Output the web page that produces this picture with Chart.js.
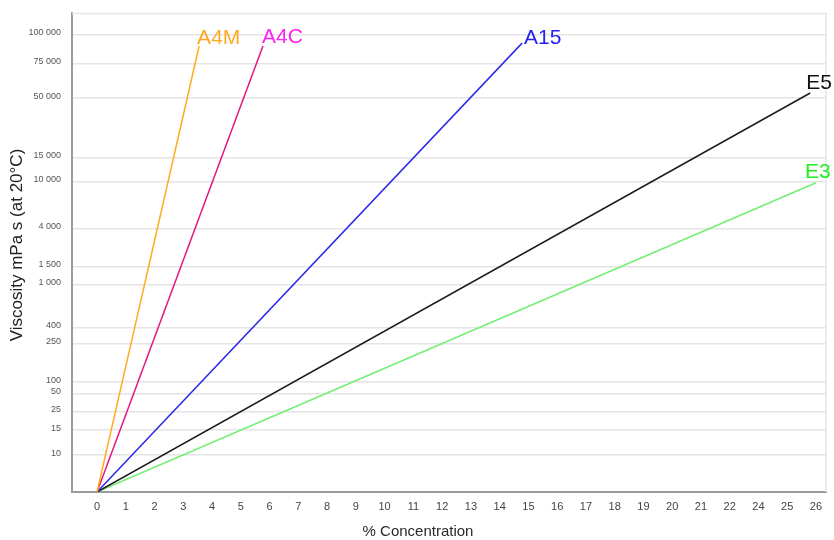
<!DOCTYPE html>
<html>
<head>
<meta charset="utf-8">
<script src="https://cdn.jsdelivr.net/npm/chart.js@4.4.1/dist/chart.umd.min.js"></script>
<style>
  html, body { margin: 0; padding: 0; background: #ffffff; }
  #wrap { width: 834px; height: 540px; position: relative; }
</style>
</head>
<body>
<div id="wrap"><canvas id="c" width="834" height="540"></canvas></div>
<script>
// ---------- DATA ----------
const seriesNames = ['A4M', 'A4C', 'A15', 'E5', 'E3'];
// % concentration (start, end) for each grade
const concA4M = [0, 3.55];
const concA4C = [0, 5.77];
const concA15 = [0, 14.78];
const concE5  = [0, 25.8];
const concE3  = [0, 26.0];
// viscosity mPa s (start, end) for each grade
const viscA4M = [0, 90500];
const viscA4C = [0, 90500];
const viscA15 = [0, 93000];
const viscE5  = [0, 53700];
const viscE3  = [0, 9900];

// tick labels
const xTickValues = [0,1,2,3,4,5,6,7,8,9,10,11,12,13,14,15,16,17,18,19,20,21,22,24,25,26];
const xTickLabels = xTickValues.map(String);
const yTickValues = [10, 15, 25, 50, 100, 250, 400, 1000, 1500, 4000, 10000, 15000, 50000, 75000, 100000];
const yTickLabels = ['10', '15', '25', '50', '100', '250', '400', '1 000', '1 500', '4 000', '10 000', '15 000', '50 000', '75 000', '100 000'];

// ---------- AXIS GEOMETRY (non-uniform axes of the original) ----------
// value -> fraction of axis length
const yAxisFractions = [0, 0.0772, 0.1294, 0.1670, 0.2046, 0.2296, 0.3090, 0.3424, 0.4322, 0.4697, 0.5491, 0.6472, 0.6973, 0.8225, 0.8935, 0.9541];
const yAxisValues = [0].concat(yTickValues);
const xAxisValues = [0, 22, 24, 26];
const xAxisFractions = [0.0332, 0.8723, 0.9104, 0.9867];

const axisTables = {
  x: { v: xAxisValues, f: xAxisFractions },
  y: { v: yAxisValues, f: yAxisFractions }
};

function pwMap(t, value) {
  const v = t.v, f = t.f, n = v.length;
  let i = 0;
  if (value <= v[0]) i = 0;
  else if (value >= v[n - 1]) i = n - 2;
  else { while (i < n - 2 && value > v[i + 1]) i++; }
  return f[i] + (value - v[i]) * (f[i + 1] - f[i]) / (v[i + 1] - v[i]);
}
function pwInverse(t, dec) {
  const v = t.v, f = t.f, n = v.length;
  let i = 0;
  if (dec <= f[0]) i = 0;
  else if (dec >= f[n - 1]) i = n - 2;
  else { while (i < n - 2 && dec > f[i + 1]) i++; }
  return v[i] + (dec - f[i]) * (v[i + 1] - v[i]) / (f[i + 1] - f[i]);
}

class PiecewiseScale extends Chart.LinearScale {
  getPixelForValue(value) {
    if (value === null || value === undefined || isNaN(value)) return NaN;
    return this.getPixelForDecimal(pwMap(axisTables[this.id], value));
  }
  getValueForPixel(pixel) {
    return pwInverse(axisTables[this.id], this.getDecimalForPixel(pixel));
  }
}
PiecewiseScale.id = 'piecewise';
PiecewiseScale.defaults = Chart.LinearScale.defaults;
Chart.register(PiecewiseScale);

function pts(xs, ys) { return xs.map((x, i) => ({ x: x, y: ys[i] })); }

const lineColors  = ['#ffad1f', '#e2177f', '#2b2be6', '#1c1c1c', '#72ee72'];
const labelColors = ['#ffa922', '#ff22ee', '#2323ee', '#111111', '#22ee22'];
const labelOffsets = [[-2, -2], [-1, -3], [2, 1], [-4, -4], [-11, -5]];

const allConc = [concA4M, concA4C, concA15, concE5, concE3];
const allVisc = [viscA4M, viscA4C, viscA15, viscE5, viscE3];

const datasets = seriesNames.map((name, i) => ({
  label: name,
  data: pts(allConc[i], allVisc[i]),
  borderColor: lineColors[i],
  backgroundColor: lineColors[i],
  borderWidth: 1.5,
  pointRadius: 0,
  tension: 0,
  fill: false
}));

const decorPlugin = {
  id: 'decor',
  beforeDatasetsDraw(chart) {
    const { ctx, chartArea: a } = chart;
    ctx.save();
    ctx.strokeStyle = '#e6e6e6';
    ctx.lineWidth = 1.5;
    ctx.beginPath();
    ctx.moveTo(a.left, a.top + 0.5);
    ctx.lineTo(a.right, a.top + 0.5);
    ctx.moveTo(a.right, a.top);
    ctx.lineTo(a.right, a.bottom);
    ctx.stroke();
    ctx.restore();
  },
  afterDraw(chart) {
    const { ctx } = chart;
    ctx.save();
    // series labels at the end of each line
    ctx.font = '21px "Liberation Sans", Arial, sans-serif';
    ctx.textAlign = 'left';
    ctx.textBaseline = 'alphabetic';
    chart.data.datasets.forEach((ds, i) => {
      const meta = chart.getDatasetMeta(i);
      const last = meta.data[meta.data.length - 1];
      ctx.fillStyle = labelColors[i];
      ctx.fillText(ds.label, last.x + labelOffsets[i][0], last.y + labelOffsets[i][1]);
    });
    // axis titles
    ctx.fillStyle = '#2a2a2a';
    ctx.font = '15px "Liberation Sans", Arial, sans-serif';
    ctx.textAlign = 'center';
    ctx.textBaseline = 'middle';
    ctx.fillText('% Concentration', 418, 532);
    ctx.fillStyle = '#222222';
    ctx.font = '17px "Liberation Sans", Arial, sans-serif';
    ctx.translate(17, 245);
    ctx.rotate(-Math.PI / 2);
    ctx.fillText('Viscosity mPa s (at 20°C)', 0, 0);
    ctx.restore();
  }
};

new Chart(document.getElementById('c'), {
  type: 'line',
  data: { datasets: datasets },
  options: {
    responsive: false,
    animation: false,
    layout: { padding: { top: 13, right: 8, left: 0, bottom: 0 } },
    plugins: { legend: { display: false }, tooltip: { enabled: false }, title: { display: false } },
    scales: {
      x: {
        type: 'piecewise',
        min: -1, max: 27,
        afterBuildTicks: s => { s.ticks = xTickValues.map(v => ({ value: v })); },
        afterFit: s => { s.height = 48; s.paddingLeft = 0; s.paddingRight = 0; },
        grid: { display: false, drawTicks: false },
        border: { display: true, color: '#9a9a9a', width: 2 },
        ticks: {
          autoSkip: false, maxRotation: 0, padding: 8,
          color: '#444444',
          font: { family: '"Liberation Sans", Arial, sans-serif', size: 11 },
          callback: (v, i) => xTickLabels[i]
        }
      },
      y: {
        type: 'piecewise',
        min: 0, max: 120000,
        afterBuildTicks: s => { s.ticks = yTickValues.map(v => ({ value: v })); },
        afterFit: s => { s.width = 72; s.paddingTop = 0; s.paddingBottom = 0; },
        grid: { color: '#e4e4e4', lineWidth: 1.5, drawTicks: false },
        border: { display: true, color: '#9a9a9a', width: 2 },
        ticks: {
          autoSkip: false, padding: 11, labelOffset: -2,
          color: '#555555',
          font: { family: '"Liberation Sans", Arial, sans-serif', size: 9 },
          callback: (v, i) => yTickLabels[i]
        }
      }
    }
  },
  plugins: [decorPlugin]
});
</script>
</body>
</html>
